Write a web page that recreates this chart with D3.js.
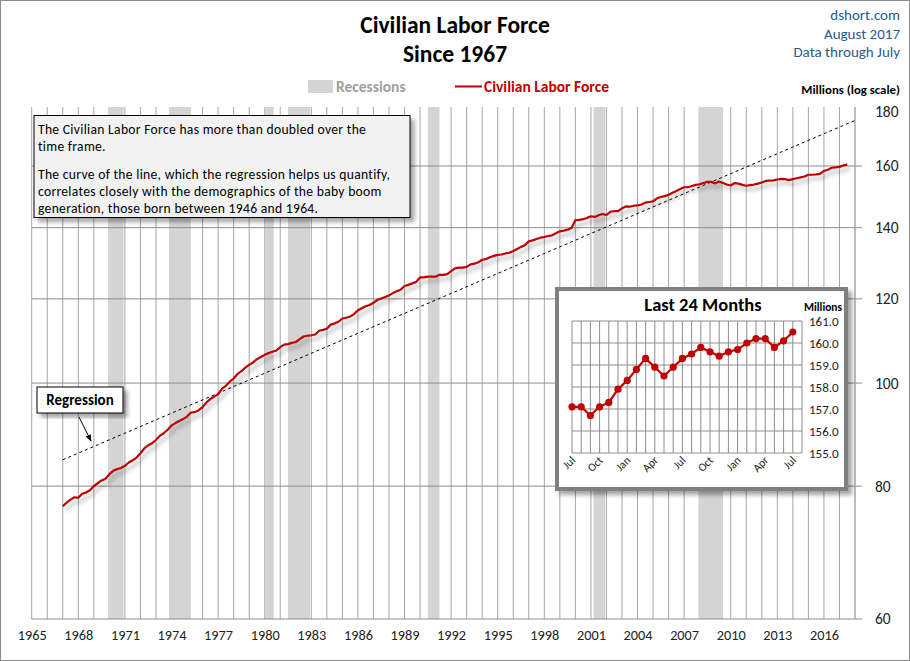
<!DOCTYPE html>
<html><head><meta charset="utf-8">
<script src="https://cdn.jsdelivr.net/npm/d3@7"></script>
<style>
body{margin:0;background:#fff;}
svg{display:block;font-family:Carlito,Lato,"Open Sans",sans-serif;}
</style>
</head><body>
<svg id="c" width="910" height="661"></svg>
<script>
// ---------- DATA ----------
const startYear = 1967; // quarterly values: Jan, Apr, Jul, Oct of each year (millions)
const clfQuarterly = [
  76.6, 77.2, 77.7, 78.1,
  78.0, 78.7, 78.9, 79.3,
  80.0, 80.5, 81.0, 81.3,
  82.1, 82.7, 83.0, 83.2,
  83.6, 84.2, 84.6, 85.1,
  85.9, 86.8, 87.4, 87.8,
  88.4, 89.2, 89.7, 90.4,
  91.2, 91.7, 92.1, 92.5,
  93.0, 93.8, 93.9, 94.3,
  94.9, 95.9, 96.6, 97.1,
  97.6, 98.8, 99.4, 100.3,
  101.0, 102.0, 102.6, 103.4,
  104.0, 104.6, 105.3, 105.8,
  106.3, 106.7, 107.0, 107.3,
  108.1, 108.7, 108.8, 109.1,
  109.3, 110.0, 110.6, 110.8,
  110.9, 111.1, 112.0, 112.2,
  112.5, 113.5, 113.8, 114.2,
  115.0, 115.2, 115.5, 116.1,
  117.1, 117.6, 118.1, 118.4,
  119.0, 119.7, 120.1, 120.5,
  120.9, 121.5, 122.0, 122.4,
  123.4, 123.7, 124.1, 124.5,
  125.7, 125.7, 125.9, 125.9,
  125.9, 126.4, 126.4, 126.6,
  127.4, 128.2, 128.4, 128.4,
  128.6, 129.3, 129.5, 129.9,
  130.6, 130.8, 131.3, 131.7,
  132.0, 132.1, 132.4, 132.6,
  133.1, 133.7, 134.3, 134.8,
  135.9, 136.2, 136.6, 137.0,
  137.2, 137.5, 137.7, 138.3,
  138.9, 139.1, 139.4, 139.9,
  142.3, 142.4, 142.6, 143.0,
  143.5, 143.3, 143.8, 144.2,
  143.9, 144.9, 145.1, 145.1,
  146.0, 146.6, 146.5, 146.8,
  146.9, 147.2, 147.8, 148.0,
  148.2, 149.2, 149.6, 149.9,
  150.3, 151.0, 151.6, 152.2,
  152.8, 152.8, 153.2, 153.6,
  153.8, 154.2, 154.6, 154.6,
  154.1, 154.7, 154.2, 153.7,
  153.4, 154.2, 154.0, 153.6,
  153.3, 153.5, 153.7, 154.0,
  154.4, 154.9, 155.0, 155.1,
  155.4, 155.6, 155.5, 155.2,
  155.5, 155.8, 156.1, 156.4,
  157.0, 157.0, 157.1, 157.3,
  158.3, 158.7, 159.4, 159.5,
  159.7, 160.2, 160.5
];
const recessions = [
  ["1969-12","1970-11"],["1973-11","1975-03"],["1980-01","1980-07"],
  ["1981-07","1982-11"],["1990-07","1991-03"],["2001-03","2001-11"],["2007-12","2009-06"]
];
const yTicks = [60, 80, 100, 120, 140, 160, 180];
const yGridValues = [80, 100, 120, 140, 160];
const xTickYears = d3.range(1965, 2017, 3);
const regressionYears = [1967.0, 2018.0];
const regressionValues = [84.7, 176.6];

const insetMonths = ["Jul","Aug","Sep","Oct","Nov","Dec","Jan","Feb","Mar","Apr","May","Jun",
                     "Jul","Aug","Sep","Oct","Nov","Dec","Jan","Feb","Mar","Apr","May","Jun","Jul"];
const insetValues = [157.1,157.1,156.7,157.1,157.3,157.9,158.3,158.8,159.3,158.9,158.5,158.9,
                     159.3,159.5,159.8,159.6,159.4,159.6,159.7,160.0,160.2,160.2,159.8,160.1,160.5];
const insetTicks = [155, 156, 157, 158, 159, 160, 161];

// ---------- SETUP ----------
const svg = d3.select("#c");
const RED = "#c00000";
const FONT = "Carlito,Lato,sans-serif";
const defs = svg.append("defs");
const f1 = defs.append("filter").attr("id","lineShadow").attr("x","-5%").attr("y","-5%").attr("width","115%").attr("height","115%");
f1.append("feDropShadow").attr("dx",3).attr("dy",4).attr("stdDeviation",2).attr("flood-color","#000").attr("flood-opacity",0.3);
const f2 = defs.append("filter").attr("id","boxShadow").attr("x","-10%").attr("y","-10%").attr("width","130%").attr("height","130%");
f2.append("feDropShadow").attr("dx",4).attr("dy",4).attr("stdDeviation",2).attr("flood-color","#000").attr("flood-opacity",0.35);
defs.append("marker").attr("id","arrow").attr("viewBox","0 0 10 10").attr("refX",9).attr("refY",5)
  .attr("markerWidth",7).attr("markerHeight",7).attr("orient","auto")
  .append("path").attr("d","M0,1 L10,5 L0,9 z").attr("fill","#000");

svg.append("rect").attr("x",0.5).attr("y",0.5).attr("width",909).attr("height",660)
  .attr("fill","#fff").attr("stroke","#8c8c8c");

const L = 31.7, R = 855, B = 619, T = 107;
const x = d3.scaleLinear().domain([1965, 2018]).range([L, R]);
const y = d3.scaleLog().domain([60, 180]).range([B, 111.6]);

const ym = s => { const [a,b] = s.split("-").map(Number); return a + (b-1)/12; };
const ymEnd = s => { const [a,b] = s.split("-").map(Number); return a + b/12; };

// vertical gridlines
svg.append("g").selectAll("line").data(d3.range(1965, 2019)).join("line")
  .attr("x1", d => x(d)).attr("x2", d => x(d)).attr("y1", T).attr("y2", B)
  .attr("stroke", "#a6a6a6").attr("stroke-width", 1);

// recessions
svg.append("g").selectAll("rect").data(recessions).join("rect")
  .attr("x", d => x(ym(d[0]))).attr("width", d => x(ymEnd(d[1])) - x(ym(d[0])))
  .attr("y", T).attr("height", B - T).attr("fill", "#d4d4d4");

// horizontal gridlines
svg.append("g").selectAll("line").data(yGridValues).join("line")
  .attr("x1", L).attr("x2", 862).attr("y1", d => y(d)).attr("y2", d => y(d))
  .attr("stroke", "#8c8c8c").attr("stroke-width", 1);
svg.append("line").attr("x1", L).attr("x2", 862).attr("y1", B).attr("y2", B).attr("stroke","#8c8c8c");
svg.append("line").attr("x1", R).attr("x2", R).attr("y1", T).attr("y2", B).attr("stroke","#a6a6a6");

// right axis labels
const yAxis = d3.axisRight(y).tickValues(yTicks).tickSize(0).tickPadding(0).tickFormat(d3.format("d"));
const ya = svg.append("g").attr("transform", `translate(875,0)`).call(yAxis);
ya.select(".domain").remove();
ya.selectAll("text").attr("font-size", 15.5).attr("fill", "#222").attr("font-family", FONT);

// bottom axis labels
const xAxis = d3.axisBottom(x).tickValues(xTickYears).tickSize(0).tickPadding(0).tickFormat(d3.format("d"));
const xa = svg.append("g").attr("transform", `translate(0,630)`).call(xAxis);
xa.select(".domain").remove();
xa.selectAll("text").attr("font-size", 14.3).attr("fill", "#222").attr("font-family", FONT);

// regression
svg.append("line")
  .attr("x1", x(regressionYears[0])).attr("y1", y(regressionValues[0]))
  .attr("x2", x(regressionYears[1])).attr("y2", y(regressionValues[1]))
  .attr("stroke", "#000").attr("stroke-width", 1).attr("stroke-dasharray", "3,3");

// main line
const mainData = clfQuarterly.map((v, i) => [startYear + i * 0.25, v]);
svg.append("path").datum(mainData)
  .attr("d", d3.line().x(d => x(d[0])).y(d => y(d[1])))
  .attr("fill", "none").attr("stroke", RED).attr("stroke-width", 2.2)
  .attr("stroke-linejoin","round").attr("filter", "url(#lineShadow)");

// ---------- TITLES ----------
svg.append("text").attr("x", 455).attr("y", 33).attr("text-anchor","middle")
  .attr("font-size", 23.5).attr("font-weight","bold").attr("fill","#000").text("Civilian Labor Force");
svg.append("text").attr("x", 455).attr("y", 62).attr("text-anchor","middle")
  .attr("font-size", 23.5).attr("font-weight","bold").attr("fill","#000").text("Since 1967");
const info = ["dshort.com","August 2017","Data through July"];
svg.append("g").selectAll("text").data(info).join("text")
  .attr("x", 900).attr("y", (d,i) => 20 + i*18.5).attr("text-anchor","end")
  .attr("font-size", 15).attr("fill","#2a5a8f").text(d => d);

// legend
svg.append("rect").attr("x", 308).attr("y", 80).attr("width", 25).attr("height", 13).attr("fill", "#d4d4d4");
svg.append("text").attr("x", 336).attr("y", 91.5).attr("font-size", 15.5).attr("font-weight","bold")
  .attr("fill","#a0a0a0").text("Recessions");
svg.append("line").attr("x1", 455).attr("x2", 482).attr("y1", 86.5).attr("y2", 86.5).attr("stroke", RED).attr("stroke-width", 2);
svg.append("text").attr("x", 484).attr("y", 91.5).attr("font-size", 15.5).attr("font-weight","bold")
  .attr("fill", RED).text("Civilian Labor Force");
svg.append("text").attr("x", 900).attr("y", 94).attr("text-anchor","end").attr("font-size", 12.8)
  .attr("font-weight","bold").attr("fill","#000").text("Millions  (log scale)");

// ---------- TEXT BOX ----------
svg.append("rect").attr("x", 34).attr("y", 115.5).attr("width", 376).attr("height", 102)
  .attr("fill", "#f2f2f2").attr("stroke", "#000").attr("stroke-width", 1).attr("filter","url(#boxShadow)");
const note = [
  ["The Civilian Labor Force has more than doubled over the", 134],
  ["time frame.", 150.8],
  ["The curve of the line, which the regression helps us quantify,", 179.4],
  ["correlates closely with the demographics of the baby boom", 196],
  ["generation, those born between 1946 and 1964.", 212.6]
];
svg.append("g").selectAll("text").data(note).join("text")
  .attr("x", 38).attr("y", d => d[1]).attr("font-size", 13.6).attr("letter-spacing", 0.3)
  .attr("fill","#000").text(d => d[0]);

// regression label
svg.append("rect").attr("x", 37).attr("y", 387).attr("width", 86).attr("height", 26)
  .attr("fill", "#fff").attr("stroke", "#000").attr("filter","url(#boxShadow)");
svg.append("text").attr("x", 80).attr("y", 405).attr("text-anchor","middle").attr("font-size", 15)
  .attr("font-weight","bold").text("Regression");
svg.append("line").attr("x1", 79).attr("y1", 417).attr("x2", 91).attr("y2", 441)
  .attr("stroke", "#000").attr("stroke-width", 1).attr("marker-end","url(#arrow)");

// ---------- INSET ----------
const ib = svg.append("g");
ib.append("rect").attr("x", 557).attr("y", 289).attr("width", 289).attr("height", 200)
  .attr("fill", "#fff").attr("stroke", "#808080").attr("stroke-width", 4).attr("filter","url(#boxShadow)");
ib.append("text").attr("x", 703).attr("y", 311).attr("text-anchor","middle").attr("font-size", 18.5)
  .attr("font-weight","bold").text("Last 24 Months");
ib.append("text").attr("x", 823).attr("y", 311).attr("text-anchor","middle").attr("font-size", 11.4)
  .attr("font-weight","bold").text("Millions");

const ix = d3.scaleLinear().domain([0, 25]).range([572, 802]);
const iy = d3.scaleLinear().domain([155, 161]).range([453, 321]);
ib.append("g").selectAll("line").data(d3.range(0, 26)).join("line")
  .attr("x1", d => ix(d)).attr("x2", d => ix(d)).attr("y1", iy(161)).attr("y2", iy(155))
  .attr("stroke", "#8c8c8c");
ib.append("g").selectAll("line").data(insetTicks).join("line")
  .attr("x1", ix(0)).attr("x2", ix(25)).attr("y1", d => iy(d)).attr("y2", d => iy(d))
  .attr("stroke", "#8c8c8c");
const iya = ib.append("g").attr("transform","translate(809,0)")
  .call(d3.axisRight(iy).tickValues(insetTicks).tickSize(0).tickPadding(0).tickFormat(d3.format(".1f")));
iya.select(".domain").remove();
iya.selectAll("text").attr("font-size", 13).attr("fill","#222").attr("font-family", FONT);

const labelIdx = d3.range(0, 25, 3);
ib.append("g").selectAll("text").data(labelIdx).join("text")
  .attr("transform", d => `translate(${ix(d) + 4},${461}) rotate(-45)`)
  .attr("text-anchor","end").attr("font-size", 11.5).attr("fill","#222").text(d => insetMonths[d]);

ib.append("path").datum(insetValues)
  .attr("d", d3.line().x((d,i) => ix(i)).y(d => iy(d)))
  .attr("fill","none").attr("stroke", RED).attr("stroke-width", 2.2);
ib.append("g").selectAll("circle").data(insetValues).join("circle")
  .attr("cx", (d,i) => ix(i)).attr("cy", d => iy(d)).attr("r", 3.6).attr("fill", RED);
</script>
</body></html>
